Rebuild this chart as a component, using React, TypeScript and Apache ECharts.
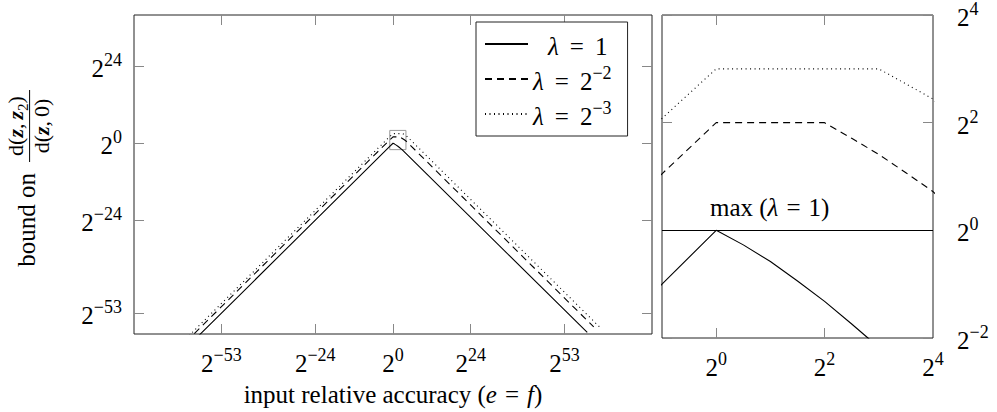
import React, { useEffect, useRef } from 'react';
import * as echarts from 'echarts';

const FONT = 'Liberation Serif';

// Series labels (lambda values)
const seriesNames = ['λ = 1', 'λ = 2⁻²', 'λ = 2⁻³'];

// Sample points: log2 of input relative accuracy e (= f) and log2 of the bound
const lam1Log2E = [-64, -1, 0, 0.5, 1, 1.5, 2, 2.5, 2.8, 60];
const lam1Log2Bound = [-64, -1, 0, -0.27, -0.58, -0.94, -1.32, -1.74, -2, -59];
const lam2Log2E = [-64, -1, 0, 2, 2.5, 3, 3.5, 4, 62];
const lam2Log2Bound = [-62, 1.05, 2, 2, 1.71, 1.41, 1.07, 0.72, -57.3];
const lam3Log2E = [-64, -1, 0, 3, 3.5, 4, 64.5];
const lam3Log2Bound = [-61, 2.08, 3, 3, 2.72, 2.44, -58];

// Tick exponents (powers of two)
const mainXTicks = [-53, -24, 0, 24, 53];
const mainYTicks = [-53, -24, 0, 24];
const zoomXLabels = [0, 2, 4];
const zoomXTicks = [0, 2];
const zoomYLabels = [-2, 0, 2, 4];
const zoomYTicks = [-2, 0, 2, 4];

// Axis ranges (exponents of 2)
const mainXRange = [-80, 80];
const mainYRange = [-59.5, 40];
const zoomXRange = [-1, 4];
const zoomYRange = [-2, 4];

// log2 of the maximum of the bound for lambda = 1
const maxLevel = 0;

const BASE = 25;
const SUP = 18;

const pow2 = (v: number) =>
  `{b|2}{s|${v < 0 ? '\u2212' + Math.abs(v) : String(v)}}`;

const powRich = {
  b: { fontSize: BASE, fontFamily: FONT, color: '#000', verticalAlign: 'bottom', lineHeight: 30 },
  s: { fontSize: SUP, fontFamily: FONT, color: '#000', verticalAlign: 'top' },
};

const textRich = {
  t: { fontSize: BASE, fontFamily: FONT, color: '#000' },
  i: { fontSize: BASE, fontFamily: FONT, fontStyle: 'italic', color: '#000' },
  e: { fontSize: BASE, fontFamily: FONT, color: '#000', padding: [0, 8, 0, 8] },
  l: { fontSize: BASE, fontFamily: FONT, fontStyle: 'italic', color: '#000', verticalAlign: 'bottom', lineHeight: 30 },
  q: { fontSize: BASE, fontFamily: FONT, color: '#000', padding: [0, 11, 0, 11], verticalAlign: 'bottom', lineHeight: 30 },
  n: { fontSize: BASE, fontFamily: FONT, color: '#000', verticalAlign: 'bottom', lineHeight: 30 },
  s: { fontSize: SUP, fontFamily: FONT, color: '#000', verticalAlign: 'top' },
  sp: { fontSize: BASE, fontFamily: FONT, width: 15 },
};

const legendLabel: Record<string, string> = {
  [seriesNames[0]]: '{sp| }{l|λ}{q|=}{n|1}',
  [seriesNames[1]]: '{l|λ}{q|=}{n|2}{s|\u22122}',
  [seriesNames[2]]: '{l|λ}{q|=}{n|2}{s|\u22123}',
};

const lineTypes: any[] = ['solid', [7, 5], [1, 3.5]];

const pairs = (xs: number[], ys: number[]) => xs.map((x, i) => [x, ys[i]]);
const seriesData = [
  pairs(lam1Log2E, lam1Log2Bound),
  pairs(lam2Log2E, lam2Log2Bound),
  pairs(lam3Log2E, lam3Log2Bound),
];

const tickStyle = { show: true, inside: true, length: 10, lineStyle: { color: '#888', width: 1 } };
const baseAxis = { type: 'value', splitLine: { show: false }, axisLine: { show: false, onZero: false } };

function buildOption() {
  const series: any[] = [];
  [0, 1].forEach((panel) => {
    seriesData.forEach((data, k) => {
      const s: any = {
        type: 'line',
        name: seriesNames[k],
        xAxisIndex: panel === 0 ? 0 : 2,
        yAxisIndex: panel === 0 ? 0 : 2,
        data,
        symbol: 'none',
        clip: true,
        silent: true,
        color: '#000',
        itemStyle: { color: '#000' },
        lineStyle: { color: '#000', width: 1.1, type: lineTypes[k] },
        z: 3,
      };
      if (panel === 0 && k === 0) {
        s.markArea = {
          silent: true,
          itemStyle: { color: 'rgba(0,0,0,0)', borderColor: '#999', borderWidth: 1 },
          label: { show: false },
          data: [[{ coord: [zoomXRange[0], zoomYRange[0]] }, { coord: [zoomXRange[1], zoomYRange[1]] }]],
        };
      }
      if (panel === 1 && k === 0) {
        s.markLine = {
          silent: true,
          symbol: ['none', 'none'],
          lineStyle: { color: '#000', type: 'solid', width: 1.1 },
          label: {
            show: true,
            position: 'insideStartTop',
            distance: 10,
            padding: [0, 0, 0, 38],
            formatter: '{t|max (}{i|λ}{e|=}{t|1)}',
            rich: textRich,
          },
          data: [{ yAxis: maxLevel }],
        };
      }
      series.push(s);
    });
  });

  return {
    animation: false,
    backgroundColor: '#fff',
    color: ['#000'],
    textStyle: { fontFamily: FONT, color: '#000' },
    grid: [
      { left: 134, top: 15, width: 518, height: 323, show: true, borderColor: '#222', borderWidth: 1, backgroundColor: 'transparent' },
      { left: 662, top: 15, width: 271, height: 323, show: true, borderColor: '#222', borderWidth: 1, backgroundColor: 'transparent' },
    ],
    xAxis: [
      {
        ...baseAxis, gridIndex: 0, position: 'bottom', min: mainXRange[0], max: mainXRange[1],
        axisTick: { ...tickStyle, customValues: mainXTicks },
        axisLabel: { customValues: mainXTicks, formatter: pow2, rich: powRich, margin: 12 },
        name: '{t|input relative accuracy (}{i|e}{e|=}{i|f}{t|)}',
        nameLocation: 'middle', nameGap: 48,
        nameTextStyle: { rich: textRich },
      },
      {
        ...baseAxis, gridIndex: 0, position: 'top', min: mainXRange[0], max: mainXRange[1],
        axisTick: { ...tickStyle, customValues: mainXTicks }, axisLabel: { show: false },
      },
      {
        ...baseAxis, gridIndex: 1, position: 'bottom', min: zoomXRange[0], max: zoomXRange[1],
        axisTick: { ...tickStyle, customValues: zoomXTicks },
        axisLabel: { customValues: zoomXLabels, formatter: pow2, rich: powRich, margin: 12 },
      },
      {
        ...baseAxis, gridIndex: 1, position: 'top', min: zoomXRange[0], max: zoomXRange[1],
        axisTick: { ...tickStyle, customValues: zoomXTicks }, axisLabel: { show: false },
      },
    ],
    yAxis: [
      {
        ...baseAxis, gridIndex: 0, position: 'left', min: mainYRange[0], max: mainYRange[1],
        axisTick: { ...tickStyle, customValues: mainYTicks },
        axisLabel: { customValues: mainYTicks, formatter: pow2, rich: powRich, margin: 12 },
      },
      {
        ...baseAxis, gridIndex: 0, position: 'right', min: mainYRange[0], max: mainYRange[1],
        axisTick: { ...tickStyle, customValues: mainYTicks }, axisLabel: { show: false },
      },
      {
        ...baseAxis, gridIndex: 1, position: 'right', min: zoomYRange[0], max: zoomYRange[1],
        axisTick: { ...tickStyle, customValues: zoomYTicks },
        axisLabel: { customValues: zoomYLabels, formatter: pow2, rich: powRich, margin: 24 },
      },
      {
        ...baseAxis, gridIndex: 1, position: 'left', min: zoomYRange[0], max: zoomYRange[1],
        axisTick: { ...tickStyle, customValues: zoomYTicks }, axisLabel: { show: false },
      },
    ],
    legend: {
      data: seriesNames,
      orient: 'vertical',
      left: 476,
      top: 22,
      padding: [7, 16, 7, 8],
      itemGap: 5,
      itemWidth: 43,
      itemHeight: 14,
      borderColor: '#222',
      borderWidth: 1,
      backgroundColor: '#fff',
      selectedMode: false,
      itemStyle: { opacity: 0 },
      formatter: (name: string) => legendLabel[name] || name,
      textStyle: { rich: textRich, lineHeight: 30 },
    },
    graphic: [
      {
        type: 'group',
        x: 26,
        y: 278,
        rotation: Math.PI / 2,
        silent: true,
        children: [
          {
            type: 'text', x: 105, y: 0,
            style: { text: 'bound on', fontSize: BASE, fontFamily: FONT, fill: '#000', align: 'right', verticalAlign: 'middle' },
          },
          {
            type: 'text', x: 152, y: -9,
            style: {
              text: '{r|d(}{z|z}{c|,}{z|z}{u|2}{r|)}',
              align: 'center', verticalAlign: 'middle',
              rich: {
                r: { fontSize: 22, fontFamily: FONT, fill: '#000', verticalAlign: 'top', lineHeight: 26 },
                c: { fontSize: 22, fontFamily: FONT, fill: '#000', verticalAlign: 'top', lineHeight: 26, padding: [0, 4, 0, 0] },
                z: { fontSize: 22, fontFamily: FONT, fontWeight: 'bold', fontStyle: 'italic', fill: '#000', verticalAlign: 'top', lineHeight: 26 },
                u: { fontSize: 15, fontFamily: FONT, fill: '#000', verticalAlign: 'bottom', lineHeight: 20 },
              },
            },
          },
          { type: 'line', shape: { x1: 116, y1: 3.6, x2: 188, y2: 3.6 }, style: { stroke: '#000', lineWidth: 1 } },
          {
            type: 'text', x: 152, y: 15,
            style: {
              text: '{r|d(}{z|z}{c|,}{r|0)}',
              align: 'center', verticalAlign: 'middle',
              rich: {
                r: { fontSize: 22, fontFamily: FONT, fill: '#000' },
                c: { fontSize: 22, fontFamily: FONT, fill: '#000', padding: [0, 4, 0, 0] },
                z: { fontSize: 22, fontFamily: FONT, fontWeight: 'bold', fontStyle: 'italic', fill: '#000' },
              },
            },
          },
        ],
      },
    ],
    series,
  };
}

export default function App() {
  const ref = useRef<HTMLDivElement>(null);
  useEffect(() => {
    if (!ref.current) return;
    const chart = echarts.init(ref.current, undefined, { renderer: 'svg' });
    chart.setOption(buildOption() as any);
    return () => chart.dispose();
  }, []);
  return (
    <div
      ref={ref}
      style={{ position: 'fixed', left: 0, top: 0, width: 997, height: 412, background: '#fff' }}
    />
  );
}
